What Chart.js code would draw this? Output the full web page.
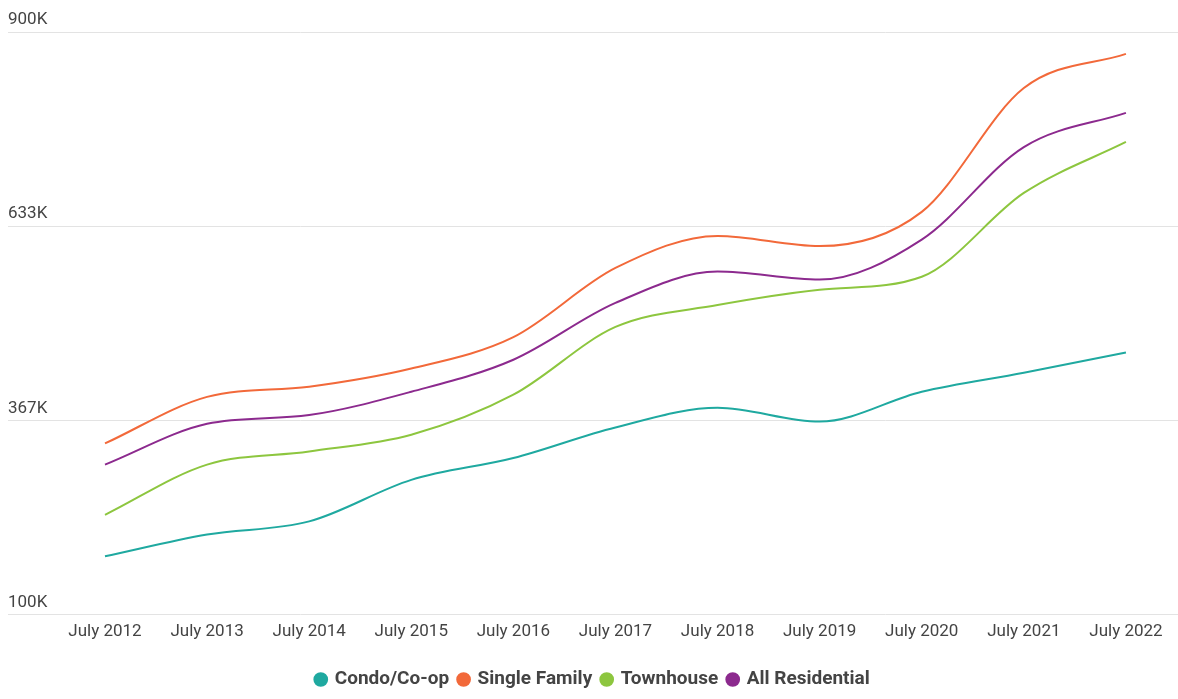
<!DOCTYPE html>
<html>
<head>
<meta charset="utf-8">
<script src="https://cdn.jsdelivr.net/npm/chart.js@4"></script>
<style>
  html, body { margin: 0; padding: 0; background: #fff; }
  #wrap { width: 1178px; height: 699px; position: relative; }
</style>
</head>
<body>
<div id="wrap"><canvas id="chart"></canvas></div>
<script>
// x 카테고리
const years = ['July 2012', 'July 2013', 'July 2014', 'July 2015', 'July 2016', 'July 2017',
               'July 2018', 'July 2019', 'July 2020', 'July 2021', 'July 2022'];

// 시리즈 값 (단위: 천 달러)
const condo = [180, 210, 228, 285, 315, 357, 384, 365, 406, 432, 460];
const singleFamily = [335, 399, 413, 438, 481, 576, 620, 606, 653, 823, 870];
const townhouse = [237, 306, 324, 347, 402, 495, 525, 546, 564, 679, 749];
const allResidential = [306, 362, 374, 406, 450, 528, 571, 560, 615, 742, 789];

// y 눈금
const yTicks = [100, 366.67, 633.33, 900];

const series = [
    { label: 'Condo/Co-op', values: condo, color: '#1fa9a0' },
    { label: 'Single Family', values: singleFamily, color: '#f2693a' },
    { label: 'Townhouse', values: townhouse, color: '#8dc63f' },
    { label: 'All Residential', values: allResidential, color: '#8c2a8e' }
];

const datasets = series.map(s => ({
    label: s.label,
    data: s.values.map((v, i) => ({ x: i, y: v })),
    borderColor: s.color,
    backgroundColor: s.color,
    borderWidth: 2,
    pointRadius: 0,
    pointHoverRadius: 0,
    cubicInterpolationMode: 'monotone',
    fill: false
}));

const ctx = document.getElementById('chart').getContext('2d');
new Chart(ctx, {
    type: 'line',
    data: { datasets },
    options: {
        responsive: true,
        maintainAspectRatio: false,
        animation: false,
        layout: { padding: { left: 8, right: 0, top: 32, bottom: 0 } },
        plugins: {
            legend: {
                position: 'bottom',
                labels: {
                    usePointStyle: true,
                    pointStyle: 'circle',
                    boxWidth: 9,
                    boxHeight: 9,
                    padding: 10,
                    color: '#444',
                    font: { family: 'Roboto', size: 19, weight: 'bold' }
                }
            },
            tooltip: { enabled: false }
        },
        scales: {
            x: {
                type: 'linear',
                min: -0.95,
                max: 10.51,
                afterBuildTicks: axis => {
                    axis.ticks = years.map((_, i) => ({ value: i }));
                },
                // 범례와의 간격 확보
                afterFit: axis => {
                    axis.height += 11;
                },
                ticks: {
                    autoSkip: false,
                    maxRotation: 0,
                    padding: 7,
                    color: '#444',
                    font: { family: 'Roboto', size: 17 },
                    callback: value => years[value] ?? ''
                },
                grid: { display: false, drawTicks: false },
                border: { display: false }
            },
            y: {
                min: 100,
                max: 900,
                afterBuildTicks: axis => {
                    axis.ticks = yTicks.map(v => ({ value: v }));
                },
                ticks: {
                    mirror: true,
                    padding: 0,
                    labelOffset: -12,
                    color: '#444',
                    font: { family: 'Roboto', size: 17 },
                    callback: value => Math.round(value) + 'K'
                },
                grid: { color: '#e3e3e3', lineWidth: 1, drawTicks: false },
                border: { display: false }
            }
        }
    }
});
</script>
</body>
</html>
